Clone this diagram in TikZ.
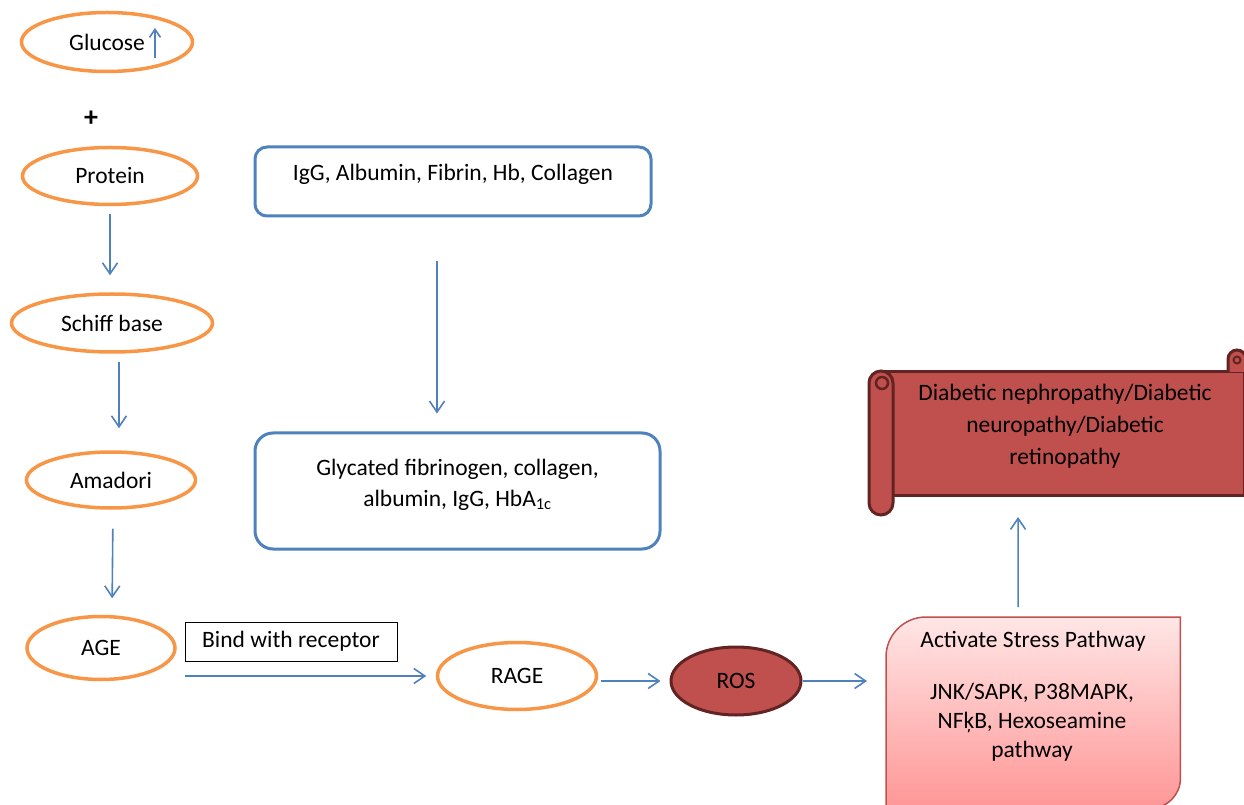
\documentclass[tikz,border=0pt]{standalone}
\usepackage{fontspec}
\setmainfont{Carlito}
\usetikzlibrary{shapes,arrows.meta}
\definecolor{ageorange}{HTML}{F79646}
\definecolor{ageblue}{HTML}{4F81BD}
\definecolor{agered}{HTML}{C0504D}
\definecolor{agedark}{HTML}{622423}

\begin{document}
\begin{tikzpicture}[
    x=1pt,
    y=1pt,
    >={Straight Barb[length=11pt,width=15pt]},
    font=\fontsize{23.5}{31}\selectfont,
    oval/.style={
      ellipse,
      draw=ageorange,
      line width=3.5pt,
      inner sep=0pt
    },
    redoval/.style={
      ellipse,
      draw=agedark,
      fill=agered,
      line width=3pt,
      inner sep=0pt
    },
    bluebox/.style={
      draw=ageblue,
      line width=3pt,
      inner sep=0pt
    },
    flow/.style={
      ->,
      draw=ageblue,
      line width=1.6pt
    },
    stressbox/.style={
      draw=agered,
      line width=1.5pt,
      top color={rgb,255:red,255;green,230;blue,230},
      bottom color={rgb,255:red,255;green,150;blue,150}
    },
    scroll/.style={
      draw=agedark,
      fill=agered,
      line width=3pt
    }
  ]
    \useasboundingbox (0,0) rectangle (1244,804);

    \foreach \x/\y/\w/\h/\n/\t in {107/762/171/59/glucose/Glucose,110/628/175/57/protein/Protein,112/481/201/58/schiff/Schiff base,111/324/169/56/amadori/Amadori,101/156/148/63/age/AGE,517/128/159/67/rage/RAGE}
      \node[oval,minimum width=\w,minimum height=\h] (\n) at (\x,\y) {\t};

    \node[font=\fontsize{28}{30}\selectfont\bfseries] (plus) at (91,685) {+};
    \coordinate (glucoselow) at (155,746);
    \coordinate (glucosehigh) at (155,776);
    \draw[flow,-{Straight Barb[length=8pt,width=11pt]}] (glucoselow) -- (glucosehigh);

    \node[redoval,minimum width=130,minimum height=68] (ros) at (736,123) {ROS};
    \node[draw,line width=1pt,minimum width=212,minimum height=39,inner sep=0pt] (bind) at (291,162.5) {Bind with receptor};
    \coordinate (bindfrom) at (185,128);

    \node[bluebox,rounded corners=12pt,minimum width=396,minimum height=69,text depth=18pt] (igg) at (453,622.5) {IgG, Albumin, Fibrin, Hb, Collagen};
    \node[bluebox,rounded corners=18pt,minimum width=405,minimum height=116,align=center,text depth=17pt,font=\fontsize{23.5}{31}\selectfont] (glyc) at (457.5,313) {Glycated fibrinogen, collagen,\\ albumin, IgG, HbA\textsubscript{1c}};

    % stress pathway box
    \node[minimum width=294,minimum height=191,inner sep=0pt,anchor=north west] (stress) at (886,187) {};
    \path[stressbox] (stress.south west) -- ([yshift=-40]stress.north west) arc[start angle=180,end angle=90,radius=40] -- (stress.north east) -- ([yshift=30]stress.south east) arc[start angle=0,end angle=-90,radius=30] -- cycle;
    \node (stresstitle) at (1033,163) {Activate Stress Pathway};
    \node[align=center,font=\fontsize{23.5}{29}\selectfont] (stresslist) at (1032,82) {JNK/SAPK, P38MAPK,\\ NFķB, Hexoseamine\\ pathway};

    % scroll
    \filldraw[scroll] (881,309) rectangle (1244,432);
    \filldraw[scroll] (1228,432) -- (1228,445) arc[start angle=180,end angle=0,radius=9] -- (1246,432);
    \draw[agedark,line width=2pt] (1237,444) circle (3.5);
    \filldraw[scroll,rounded corners=12pt] (869,289) rectangle (893,433);
    \draw[agedark,line width=2.5pt] (882,421) circle (6);
    \node[align=center,font=\fontsize{23.5}{32}\selectfont] (disease) at (1065,378) {Diabetic nephropathy/Diabetic\\ neuropathy/Diabetic\\ retinopathy};
    \coordinate (scrollbot) at (1018,309);

    \draw[flow,shorten <=7.5pt,shorten >=17pt] (protein.south) -- ([xshift=-2]schiff.north);
    \draw[flow,shorten <=8pt,shorten >=22pt] ([xshift=7]schiff.south) -- ([xshift=8]amadori.north);
    \draw[flow,shorten <=19pt,shorten >=16.5pt] ([xshift=2]amadori.south) -- ([xshift=11]age.north);
    \draw[flow,shorten <=44pt,shorten >=18pt] ([xshift=-16]igg.south) -- ([xshift=-20.5]glyc.north);
    \draw[flow,shorten >=9.5pt] (bindfrom) -- (rage.west);
    \draw[flow,shorten <=3pt,shorten >=9pt] ([yshift=-5]rage.east) -- (ros.west);
    \draw[flow,shorten >=19pt] (ros.east) -- (ros.east -| stress.west);
    \draw[flow,shorten <=10pt,shorten >=22pt] ([xshift=-15]stress.north) -- (scrollbot);
  \end{tikzpicture}
\end{document}
